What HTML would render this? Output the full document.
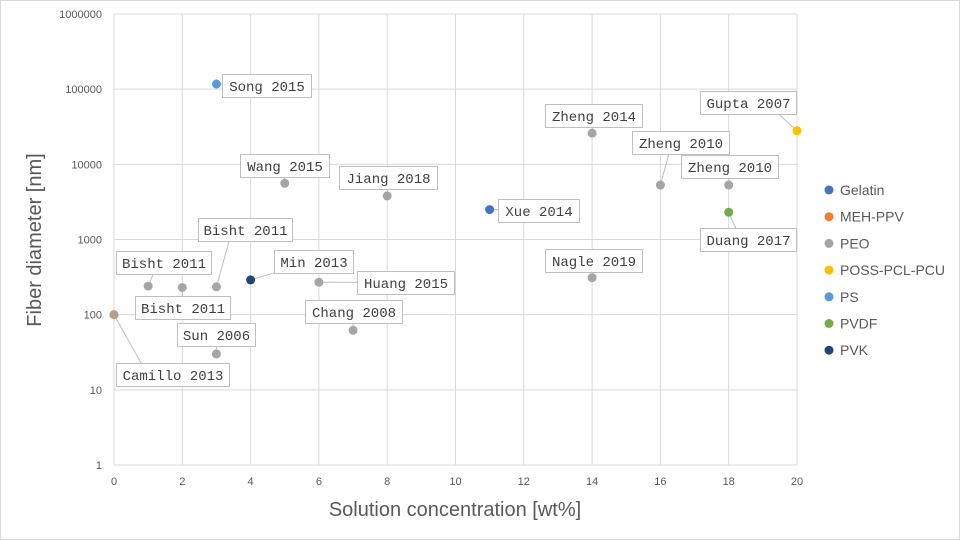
<!DOCTYPE html>
<html><head><meta charset="utf-8"><style>
body{margin:0;background:#fff}
svg{display:block;font-family:"Liberation Sans",sans-serif}
</style></head><body>
<svg id="c" width="960" height="540">
<rect x="0.5" y="0.5" width="959" height="539" fill="#fff" stroke="#d9d9d9"/>
<g id="grid"></g><g id="lines"></g><g id="pts"></g><g id="labels"></g><g id="legend"></g>
<text x="455" y="516" font-size="20" fill="#595959" text-anchor="middle">Solution concentration [wt%]</text>
<text transform="translate(41,240) rotate(-90)" font-size="20" fill="#595959" text-anchor="middle">Fiber diameter [nm]</text>
</svg>
<script>
const xTicks=[0,2,4,6,8,10,12,14,16,18,20];
const yTicks=[1,10,100,1000,10000,100000,1000000];
const names=["Camillo 2013","Bisht 2011","Bisht 2011","Bisht 2011","Sun 2006","Song 2015","Min 2013","Wang 2015","Huang 2015","Chang 2008","Jiang 2018","Xue 2014","Zheng 2014","Nagle 2019","Zheng 2010","Zheng 2010","Duang 2017","Gupta 2007"];
const xVals=[0,1,2,3,3,3,4,5,6,7,8,11,14,14,16,18,18,20];
const yVals=[100,240,230,235,30,117000,290,5600,270,62,3800,2500,26000,310,5300,5300,2300,28000];
const series=["PEO","PEO","PEO","PEO","PEO","PS","PVK","PEO","PEO","PEO","PEO","Gelatin","PEO","PEO","PEO","PEO","PVDF","POSS-PCL-PCU"];
const legendNames=["Gelatin","MEH-PPV","PEO","POSS-PCL-PCU","PS","PVDF","PVK"];
const legendColors=["#4472c4","#ed7d31","#a5a5a5","#ffc000","#5b9bd5","#70ad47","#264478"];
// label box offsets (layout)
const boxes=[[116,363,113],[116,251,95],[135,296,95],[198,218,94],[177,323,78],[222,74,89],[274,250,79],[240,154,89],[357,271,97],[305,300,97],[339,166,98],[498,199,81],[545,104,97],[545,249,97],[632,131,97],[681,155,97],[700,228,96],[700,91,96]];
const X0=114,X1=797,Y0=465,Y1=14;
const sx=v=>X0+(v-0)/20*(X1-X0);
const sy=v=>Y0-Math.log10(v)/6*(Y0-Y1);
const NS="http://www.w3.org/2000/svg";
function mk(t,a,p){const e=document.createElementNS(NS,t);for(const k in a)e.setAttribute(k,a[k]);p.appendChild(e);return e;}
const grid=document.getElementById('grid');
xTicks.forEach(t=>{
 const l=mk('line',{x1:sx(t),x2:sx(t),y1:Y1,y2:Y0,stroke:'#d9d9d9'},grid);
 
 
 const tx=mk('text',{x:sx(t),y:485,'font-size':11,fill:'#595959','text-anchor':'middle'},grid);tx.textContent=t;
 
 
});
yTicks.forEach(t=>{
 const l=mk('line',{x1:X0,x2:X1,y1:sy(t),y2:sy(t),stroke:'#d9d9d9'},grid);
 
 
 const tx=mk('text',{x:102,y:sy(t)+4,'font-size':11,fill:'#595959','text-anchor':'end'},grid);tx.textContent=t;
 
 
});
const colorOf=s=>legendColors[legendNames.indexOf(s)];
const lines=document.getElementById('lines'),pts=document.getElementById('pts'),labs=document.getElementById('labels');
const m=mk('circle',{cx:sx(0),cy:sy(100),r:4.5,fill:'#ed7d31'},pts);


xVals.forEach((xv,i)=>{
 const px=sx(xv),py=sy(yVals[i]);const b=boxes[i];
 const bx=Math.max(b[0],Math.min(px,b[0]+b[2])),by=Math.max(b[1],Math.min(py,b[1]+23));
 const l=mk('line',{x1:px,y1:py,x2:(bx+b[0]+b[2]/2)/2,y2:(by+b[1]+11.5)/2,stroke:'#bfbfbf'},lines);
 
 
 const c=mk('circle',{cx:px,cy:py,r:4.5,fill:colorOf(series[i]),'fill-opacity':i==0?0.8:1},pts);
 
 
 const r=mk('rect',{x:b[0]+.5,y:b[1]+.5,width:b[2],height:23,fill:'#fff',stroke:'#bfbfbf'},labs);
 
 
 const t=mk('text',{x:b[0]+b[2]/2+.5,y:b[1]+17,'font-size':14,fill:'#404040','text-anchor':'middle','font-family':'Liberation Mono,monospace'},labs);
 t.textContent=names[i];
 
 
});
const lg=document.getElementById('legend');
legendNames.forEach((n,i)=>{
 const y=190+i*26.7;
 const c=mk('circle',{cx:829,cy:y,r:4.5,fill:legendColors[i]},lg);
 
 
 const t=mk('text',{x:840,y:y+5,'font-size':14,fill:'#595959'},lg);t.textContent=n;
 
 
});
</script>
</body></html>
